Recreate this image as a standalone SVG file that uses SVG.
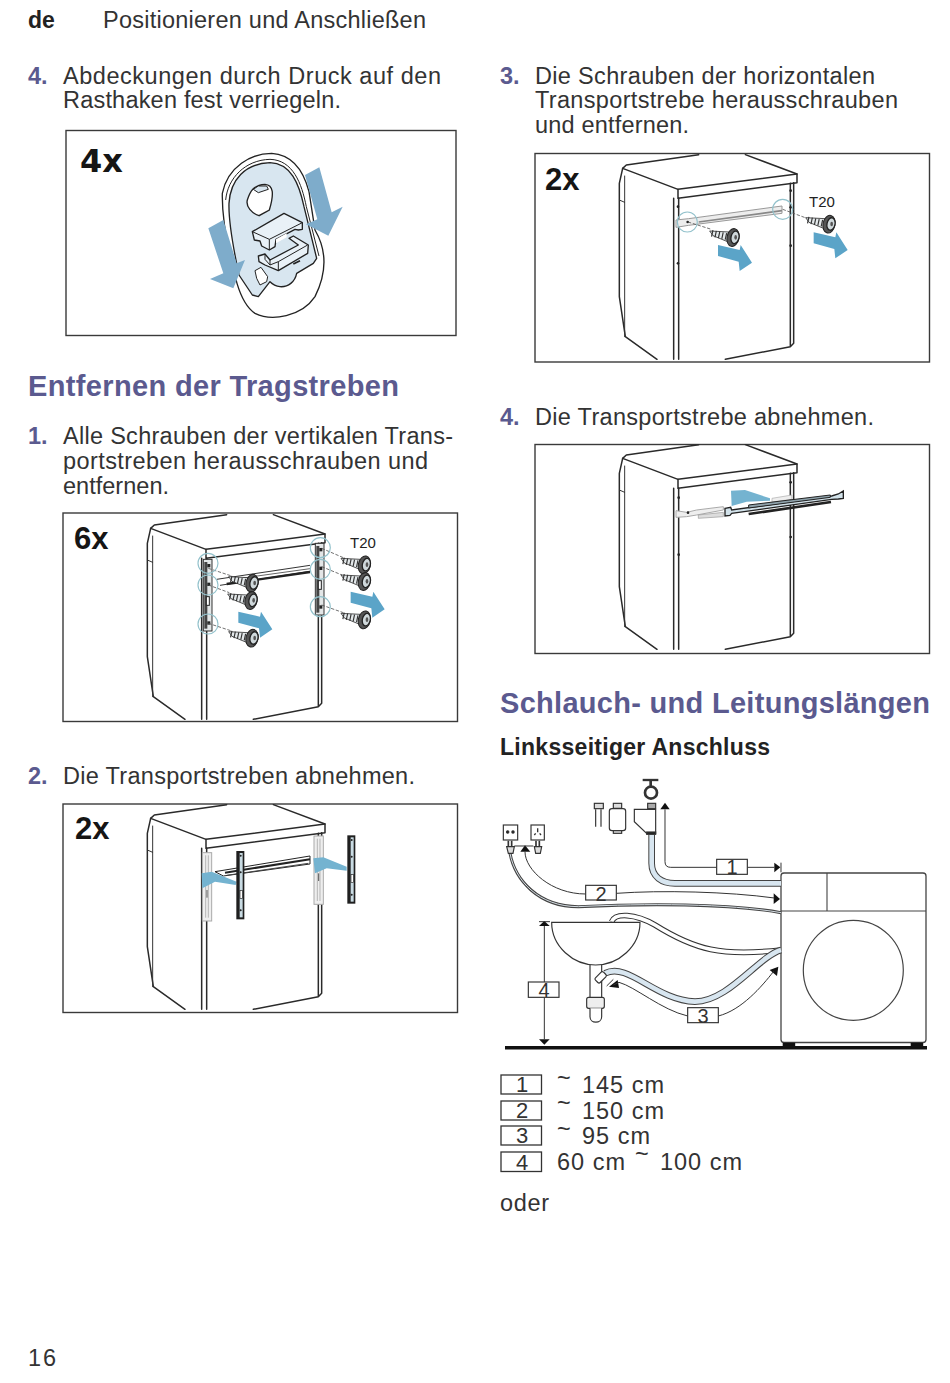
<svg xmlns="http://www.w3.org/2000/svg" width="950" height="1383" viewBox="0 0 950 1383">
<style>
text{font-family:"Liberation Sans",Arial,sans-serif;fill:#333}
.b{font-size:23.5px}
.n{font-size:23.5px;font-weight:bold;fill:#5b5a8f}
.h{font-size:29px;font-weight:bold;fill:#5b5a8f}
.x{font-size:31px;font-weight:bold;fill:#151515}
.t{font-size:15px;fill:#222}
.l{font-size:20px;text-anchor:middle;fill:#333}
.frame{fill:#fff;stroke:#3a3a3a;stroke-width:1.4}
.ln{fill:none;stroke:#2a2a2a;stroke-width:4.5;stroke-linecap:round;stroke-linejoin:round}
.th{fill:none;stroke:#333;stroke-width:3;stroke-linecap:round;stroke-linejoin:round}
.ring{fill:none;stroke:#93c2cc;stroke-width:3.5}
.dash{stroke:#555;stroke-width:2.5;stroke-dasharray:10 5;fill:none}
.blue{fill:#5ba4c8}
.soft{fill:#74b3d0}
.ghost{fill:#eee;stroke:#aaa;stroke-width:3}
.conn{fill:none;stroke:#333;stroke-width:3}
.box{fill:#fff;stroke:#333;stroke-width:3.5}
.plate{fill:#d8e6f0;stroke:#222;stroke-width:4;stroke-linejoin:round}
.clip{fill:#e9f1f7;stroke:#222;stroke-width:4;stroke-linejoin:round}
.dk{fill:#222}
</style>
<defs>
<g id="cab">
<path class="ln" d="M500,14L283,45L272,55L262,100V440L280,560L375,628"/>
<path class="ln" d="M640,14L795,72V98L438,145V118L272,55"/>
<path class="ln" d="M438,118L795,72"/>
<path class="th" d="M278,78V560M262,150L278,157"/>
<path class="ln" d="M425,145V628M440,145V628M785,98V580L775,590L580,628M775,100V590"/>
</g>
<g id="screw">
<polygon points="-72,-20 -14,-17 -16,13 -62,-6" fill="#e4e9eb" stroke="#333" stroke-width="2.5"/>
<line x1="-66" y1="-13" x2="-15" y2="-2" stroke="#333" stroke-width="20" stroke-dasharray="3.5 7"/>
<ellipse cx="-2" cy="0" rx="18" ry="27" transform="rotate(12)" fill="#555" stroke="#222" stroke-width="3"/>
<ellipse cx="4" cy="-1" rx="12" ry="19" transform="rotate(12 4 -1)" fill="#cfd8db" stroke="#222" stroke-width="4"/>
<ellipse cx="6" cy="-1" rx="4" ry="7" fill="#555"/>
</g>
<g id="arr"><polygon class="blue" points="0,0 65,15 68,0 102,53 65,78 62,50 0,33"/></g>
<g id="post">
<rect x="0" y="0" width="26" height="215" fill="#e3e6e7" stroke="#333" stroke-width="3"/>
<rect x="3" y="8" width="9" height="200" fill="#444"/>
<rect x="9" y="112" width="9" height="26" fill="#fff" stroke="#222" stroke-width="3"/>
<rect x="12" y="14" width="9" height="10" class="dk"/><rect x="12" y="70" width="9" height="10" class="dk"/><rect x="12" y="186" width="9" height="10" class="dk"/>
</g>
<g id="rail">
<rect x="0" y="0" width="24" height="205" fill="#1f1f1f"/>
<rect x="10" y="6" width="9" height="193" fill="#c9dbe3"/>
<rect x="11" y="118" width="7" height="24" fill="#fff" stroke="#222" stroke-width="2"/>
<circle cx="13" cy="14" r="3" class="dk"/><circle cx="13" cy="64" r="3" class="dk"/><circle cx="13" cy="178" r="3" class="dk"/>
</g>
<g id="ghostpost">
<rect x="0" y="0" width="28" height="205" class="ghost"/>
<path d="M10,8V195M18,8V195" stroke="#aaa" stroke-width="2.5"/>
<path d="M14,112V135" stroke="#555" stroke-width="3"/>
</g>
</defs>

<g id="page-header">
<text x="28" y="28" style="font-size:23px;font-weight:bold;fill:#222">de</text>
<text x="103" y="28" class="b" textLength="323">Positionieren und Anschließen</text>
</g>

<g id="step-4-left">
<text x="28" y="84" class="n">4.</text>
<text x="63" y="84" class="b" textLength="378">Abdeckungen durch Druck auf den</text>
<text x="63" y="108" class="b" textLength="278">Rasthaken fest verriegeln.</text>
<rect class="frame" x="66" y="130.5" width="390" height="205"/>
<text x="80" y="172" style="font-family:'DejaVu Sans',sans-serif;font-size:32px;font-weight:bold;fill:#151515">4x</text>
<g transform="translate(215,150) scale(.33333)">
<path d="M22,130C38,50 110,10 170,10C232,14 265,60 282,125L300,240C335,300 335,370 300,440C260,500 170,515 120,490C90,470 75,430 66,400C44,320 20,220 22,130Z" fill="#fff" stroke="#222" stroke-width="4"/>
<path d="M32,150C38,85 90,30 165,28C234,30 260,100 274,170L312,318" fill="none" stroke="#222" stroke-width="3"/>
<path class="plate" d="M42,160C46,90 90,40 165,38C227,40 252,100 267,170L305,325L295,340L245,370C240,395 220,412 195,410C180,408 170,400 165,395L130,440L112,435L72,375C56,300 40,220 42,160Z"/>
<path d="M97,150C105,125 115,105 150,103C175,105 178,130 163,180L132,197C110,190 92,170 97,150Z" fill="#fff" stroke="#222" stroke-width="4"/>
<path d="M115,118L130,108H155L160,118L130,128Z" fill="#d8e6f0" stroke="#222" stroke-width="3"/>
<path class="clip" d="M130,318L150,312L165,330L250,285L222,265L235,258L280,285L278,310L190,362L150,345L132,335Z"/>
<path d="M150,312V328L165,345L190,335V362M165,330V345M190,335L278,285" fill="none" stroke="#222" stroke-width="3"/>
<path class="clip" d="M112,245L207,190L262,218V238L250,240L240,238L183,268L180,290L163,300L140,288L135,273L118,270Z"/>
<path d="M112,245L163,268L262,218M163,268V300" fill="none" stroke="#222" stroke-width="3"/>
<path d="M183,268L215,250V262L183,280Z" fill="#fff"/>
<path d="M120,362L138,352L158,380L155,395L135,405L125,385Z" fill="#fff" stroke="#222" stroke-width="3"/>
<path d="M235,342L255,332" stroke="#222" stroke-width="5"/>
<polygon points="270,75 313,52 350,187 383,170 340,257 273,223 307,208" fill="#7eaccb"/>
<polygon points="-20,235 25,210 65,340 90,330 55,415 -15,387 25,370" fill="#7eaccb"/>
</g>
</g>

<g id="heading-tragstreben"><text x="28" y="396" class="h" textLength="371">Entfernen der Tragstreben</text></g>

<g id="step-1">
<text x="28" y="444" class="n">1.</text>
<text x="63" y="444" class="b" textLength="390">Alle Schrauben der vertikalen Trans-</text>
<text x="63" y="469" class="b" textLength="365">portstreben herausschrauben und</text>
<text x="63" y="494" class="b" textLength="106">entfernen.</text>
<rect class="frame" x="63" y="513" width="394.5" height="208.5"/>
<text x="74" y="549" class="x">6x</text>
<text x="350" y="548" class="t">T20</text>
<g transform="translate(60,510) scale(.33333)">
<use href="#cab"/>
<path d="M470,208L750,166M480,226L750,184" fill="none" stroke="#333" stroke-width="3"/>
<path d="M500,222L750,186" stroke="#222" stroke-width="7"/>
<path d="M520,208L750,176" stroke="#444" stroke-width="2.5"/>
<use href="#post" x="430" y="148"/><use href="#post" x="766" y="100"/>
<path class="dash" d="M445,175L512,197M445,225L508,248M445,340L512,362M785,115L850,143M785,170L846,195M785,285L850,308"/>
<use href="#screw" x="578" y="220"/><use href="#screw" x="575" y="272"/><use href="#screw" x="578" y="385"/>
<use href="#screw" x="915" y="165"/><use href="#screw" x="915" y="215"/><use href="#screw" x="915" y="330"/>
<circle class="ring" cx="444" cy="160" r="30"/><circle class="ring" cx="444" cy="225" r="30"/><circle class="ring" cx="444" cy="342" r="30"/>
<circle class="ring" cx="781" cy="113" r="30"/><circle class="ring" cx="781" cy="178" r="30"/><circle class="ring" cx="781" cy="290" r="30"/>
<use href="#arr" x="535" y="305"/><use href="#arr" x="872" y="245"/>
</g>
</g>

<g id="step-2">
<text x="28" y="784" class="n">2.</text>
<text x="63" y="784" class="b" textLength="352">Die Transportstreben abnehmen.</text>
<rect class="frame" x="63" y="804" width="394.5" height="208.5"/>
<text x="75" y="839" class="x">2x</text>
<g transform="translate(60,800) scale(.33333)">
<use href="#cab"/>
<use href="#ghostpost" x="427" y="158"/><use href="#ghostpost" x="762" y="108"/>
<path d="M465,215L750,168V192L490,228Z" fill="#fff" stroke="#222" stroke-width="3"/>
<path d="M495,218L750,178" stroke="#222" stroke-width="6"/>
<path d="M500,226L745,190" stroke="#444" stroke-width="3"/>
<polygon class="soft" points="425,220 455,215 530,245 527,255 465,245 427,265"/>
<polygon class="soft" points="760,175 790,172 860,200 860,212 800,205 765,220"/>
<use href="#rail" x="529" y="153"/><use href="#rail" x="862" y="106"/>
</g>
</g>

<g id="step-3">
<text x="500" y="84" class="n">3.</text>
<text x="535" y="84" class="b" textLength="340">Die Schrauben der horizontalen</text>
<text x="535" y="108" class="b" textLength="363">Transportstrebe herausschrauben</text>
<text x="535" y="133" class="b" textLength="154">und entfernen.</text>
<rect class="frame" x="535" y="153.5" width="394.5" height="208.5"/>
<text x="545" y="190" class="x">2x</text>
<text x="809" y="207" class="t">T20</text>
<g transform="translate(532,150) scale(.33333)">
<use href="#cab"/>
<path d="M432,210L470,206L750,168V190L470,226L432,232Z" fill="#ededed" stroke="#999" stroke-width="3"/>
<path d="M500,216L750,182" stroke="#888" stroke-width="5"/>
<g class="dk"><circle cx="438" cy="170" r="4"/><circle cx="438" cy="340" r="4"/><circle cx="467" cy="216" r="4"/><circle cx="776" cy="122" r="4"/><circle cx="776" cy="172" r="4"/><circle cx="776" cy="287" r="4"/></g>
<path class="dash" d="M468,216L535,237M752,178L825,205"/>
<use href="#screw" x="605" y="263"/><use href="#screw" x="893" y="223"/>
<circle class="ring" cx="466" cy="216" r="30"/><circle class="ring" cx="752" cy="178" r="30"/>
<use href="#arr" x="558" y="285"/><use href="#arr" x="845" y="247"/>
</g>
</g>

<g id="step-4-right">
<text x="500" y="425" class="n">4.</text>
<text x="535" y="425" class="b" textLength="339">Die Transportstrebe abnehmen.</text>
<rect class="frame" x="535" y="444.5" width="394.5" height="209"/>
<g transform="translate(532,440) scale(.33333)">
<use href="#cab"/>
<path d="M432,212L464,217L494,210L574,200V210L494,225L464,230L432,232Z" fill="#eee" stroke="#aaa" stroke-width="3"/>
<path d="M499,225L574,217V230L499,235Z" fill="#ddd" stroke="#999" stroke-width="2"/>
<path d="M720,175L780,165V178L720,186Z" fill="#eee" stroke="#aaa" stroke-width="2"/>
<g class="dk"><circle cx="440" cy="173" r="4"/><circle cx="440" cy="344" r="4"/><circle cx="468" cy="218" r="4"/><circle cx="776" cy="127" r="4"/><circle cx="776" cy="291" r="4"/></g>
<polygon class="soft" points="597,152 639,150 714,175 714,182 644,185 599,198"/>
<path d="M579,205L596,202L599,210L899,168L919,162L934,153V175L919,177L899,178L599,220L594,226L579,228Z" fill="#d2e2ea" stroke="#222" stroke-width="4"/>
<path d="M650,195L895,165V172L650,204Z" fill="#8fa2ab" stroke="#222" stroke-width="3"/>
<path d="M650,222L897,186" stroke="#222" stroke-width="8"/>
</g>
</g>

<g id="heading-schlauch">
<text x="500" y="713" class="h" textLength="430">Schlauch- und Leitungslängen</text>
<text x="500" y="755" style="font-size:23px;font-weight:bold;fill:#222" textLength="270">Linksseitiger Anschluss</text>
</g>

<g id="floor"><rect x="505" y="1046" width="422" height="3.5" fill="#111"/></g>

<g id="washer">
<rect x="781" y="873" width="145" height="169.5" rx="3" fill="#fff" stroke="#444" stroke-width="1.3"/>
<path d="M781,911H926M827,873V911" stroke="#444" stroke-width="1.1" fill="none"/>
<circle cx="853.3" cy="970.3" r="50" fill="#fff" stroke="#444" stroke-width="1.2"/>
<rect x="782.7" y="1042.7" width="12.5" height="4.5" fill="#111"/><rect x="910.7" y="1042.7" width="12.5" height="4.5" fill="#111"/>
</g>

<g id="hoses" transform="translate(495,770) scale(.33333)" fill="none">
<path d="M350,455C360,428 420,430 480,465C600,540 680,560 858,540" stroke="#333" stroke-width="17"/>
<path d="M350,455C360,428 420,430 480,465C600,540 680,560 858,540" stroke="#fff" stroke-width="11"/>
<path d="M470,195V280C470,320 500,340 540,340H858" stroke="#444" stroke-width="20"/>
<path d="M470,195V280C470,320 500,340 540,340H858" stroke="#d8e6f0" stroke-width="14"/>
<path d="M45,250C60,330 130,410 250,410C450,400 700,400 858,428" stroke="#444" stroke-width="9"/>
<path d="M45,250C60,330 130,410 250,410C450,400 700,400 858,428" stroke="#d5dde3" stroke-width="3"/>
</g>

<g id="basin" transform="translate(495,770) scale(.33333)" stroke="#333" stroke-width="3.5" fill="#fff">
<path d="M285,585V682M320,585V682" fill="none"/>
<rect x="275" y="682" width="53" height="33" rx="6" fill="#eee"/>
<path d="M285,715V740C285,762 320,762 320,740V715"/>
<path d="M170,457H435C435,530 370,585 302,585C235,585 170,530 170,457Z"/>
<path d="M330,610C400,575 480,690 600,695C700,695 790,560 858,540" stroke="#444" stroke-width="20" fill="none"/>
<path d="M330,610C400,575 480,690 600,695C700,695 790,560 858,540" stroke="#d8e6f0" stroke-width="14" fill="none"/>
<rect x="300" y="612" width="34" height="20" rx="5" transform="rotate(-45 317 622)"/>
</g>

<g id="tap" transform="translate(495,770) scale(.33333)" stroke="#333" stroke-width="3.5" fill="#fff">
<path d="M443,30H490" stroke-width="7"/><path d="M467,33V52" stroke-width="8"/>
<ellipse cx="468" cy="68" rx="18" ry="18" fill="none" stroke-width="8"/>
<rect x="458" y="100" width="24" height="16" fill="#aaa"/>
<path d="M418,118H482V190H455L418,155Z"/>
<rect x="455" y="186" width="27" height="7" fill="#222"/>
</g>

<g id="fittings" transform="translate(495,770) scale(.33333)" stroke="#333" stroke-width="3.5" fill="#fff">
<rect x="298" y="100" width="27" height="16" fill="#ddd"/>
<path d="M302,118V170M318,118V170" fill="none"/>
<rect x="355" y="100" width="25" height="15" fill="#ddd"/>
<rect x="343" y="116" width="49" height="66" rx="8"/>
<rect x="355" y="182" width="25" height="8" fill="#ddd"/>
</g>

<g id="sockets" transform="translate(495,770) scale(.33333)" stroke="#333" stroke-width="3.5" fill="#fff">
<rect x="25" y="165" width="43" height="45"/><circle cx="38" cy="186" r="3.5" fill="#111"/><circle cx="54" cy="186" r="3.5" fill="#111"/>
<rect x="108" y="165" width="40" height="45"/><path d="M128,175V187M118,195L122,190M138,195L134,190" stroke-width="4"/>
<path d="M40,212V230M50,212V230M123,212V230M133,212V230" stroke-width="5"/>
<path d="M35,230H58L54,250H40Z" fill="#ddd"/><path d="M118,230H140L136,250H122Z" fill="#ddd"/>
</g>

<g id="connectors" transform="translate(495,770) scale(.33333)">
<g fill="#111">
<path d="M496,118L510,98L524,118Z"/>
<path d="M838,278L856,292L838,307Z"/><path d="M858,278V307" stroke="#333" stroke-width="3"/>
<path d="M76,245L90,226L106,245Z"/>
<path d="M836,370L855,387L836,402Z"/>
<path d="M342,650L368,630L372,654Z"/>
<path d="M850,590L824,600L846,618Z"/>
<path d="M132,468L148,453L164,468Z"/>
<path d="M132,808L148,824L164,808Z"/>
</g>
<path class="conn" d="M510,118V275Q510,292 527,292H665M757,292H838"/>
<path class="conn" d="M90,245C90,300 170,372 272,372M364,370C500,360 700,365 838,384"/>
<path class="conn" d="M578,738C500,720 420,650 372,637L355,645M670,738C740,720 800,650 836,604"/>
<path class="conn" d="M148,468V636M148,682V808M132,455H165M58,228H115M355,628L335,648"/>
<rect class="box" x="665" y="268" width="92" height="45"/>
<rect class="box" x="272" y="346" width="92" height="44"/>
<rect class="box" x="578" y="713" width="92" height="45"/>
<rect class="box" x="100" y="636" width="92" height="46"/>
</g>
<g id="connector-labels">
<text class="l" x="732" y="874">1</text>
<text class="l" x="601" y="901">2</text>
<text class="l" x="703" y="1023">3</text>
<text class="l" x="544" y="997">4</text>
</g>

<g id="legend">
<g fill="#fff" stroke="#333" stroke-width="1.3">
<rect x="501" y="1075" width="40.5" height="19"/><rect x="501" y="1101" width="40.5" height="19"/><rect x="501" y="1126" width="40.5" height="19"/><rect x="501" y="1152" width="40.5" height="19.5"/>
</g>
<g style="font-size:22px;text-anchor:middle">
<text x="522" y="1092">1</text><text x="522" y="1118">2</text><text x="522" y="1143">3</text><text x="522" y="1170">4</text>
</g>
<text x="557" y="1086" class="b">~</text><text x="582" y="1093" class="b" textLength="82">145 cm</text>
<text x="557" y="1111" class="b">~</text><text x="582" y="1119" class="b" textLength="82">150 cm</text>
<text x="557" y="1137" class="b">~</text><text x="582" y="1144" class="b" textLength="68">95 cm</text>
<text x="557" y="1170" class="b" textLength="68">60 cm</text><text x="635" y="1162" class="b">~</text><text x="660" y="1170" class="b" textLength="82">100 cm</text>
<text x="500" y="1211" class="b" textLength="49">oder</text>
</g>

<g id="page-number"><text x="28" y="1366" class="b" textLength="28">16</text></g>
</svg>
